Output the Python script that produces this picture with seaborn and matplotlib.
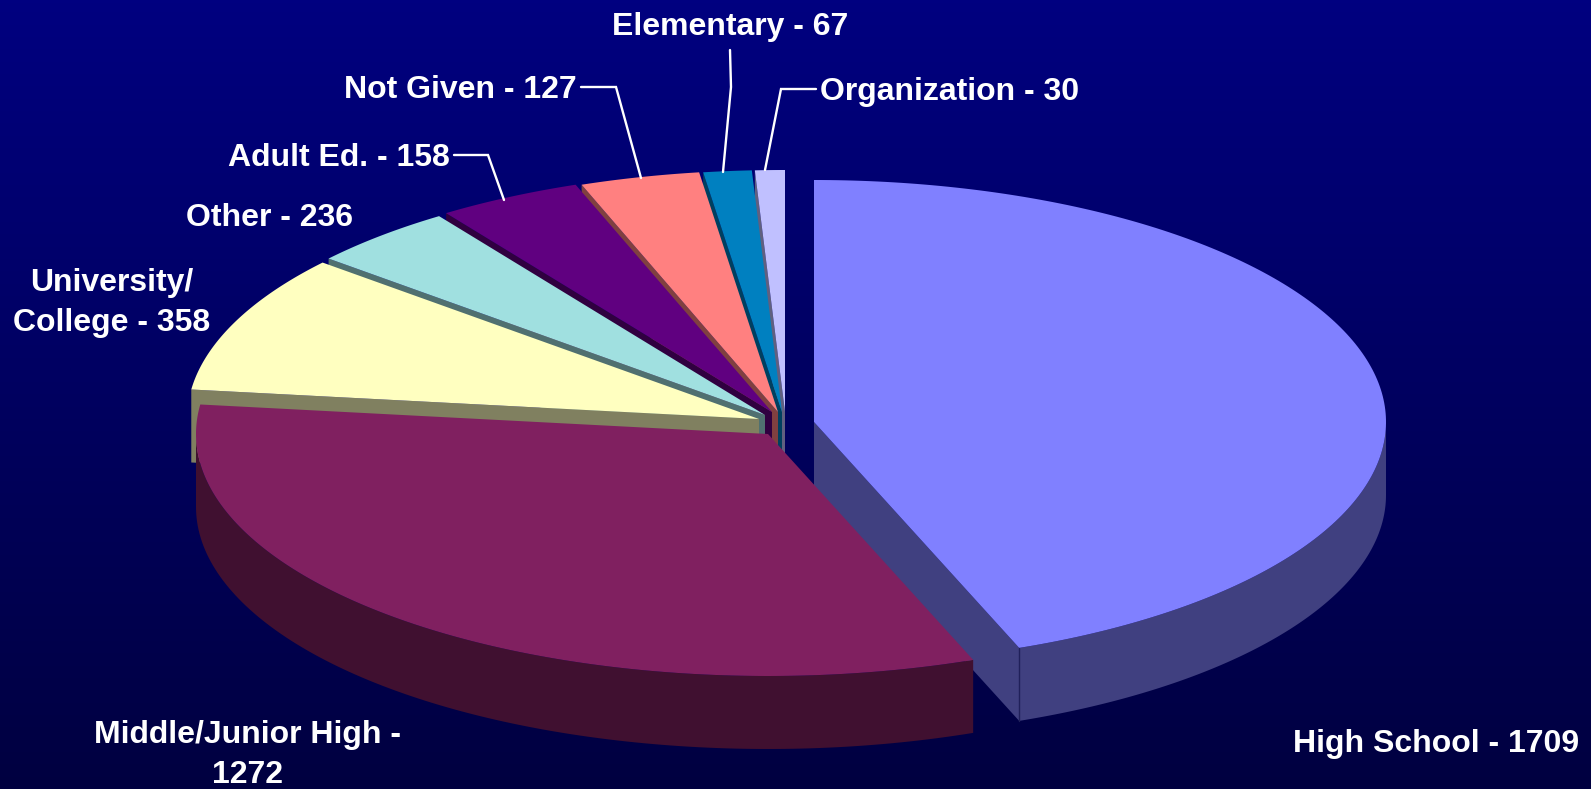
import numpy as np
import matplotlib
matplotlib.use("Agg")
import matplotlib.pyplot as plt
from matplotlib.colors import LinearSegmentedColormap
import seaborn as sns

# counts, clockwise from 12 o'clock
categories = ["High School", "Middle/Junior High", "University/College", "Other",
              "Adult Ed.", "Not Given", "Elementary", "Organization"]
counts = [1709, 1272, 358, 236, 158, 127, 67, 30]
top_colors = ["#8080FF", "#802060", "#FFFFC0", "#A0E0E0",
              "#600080", "#FF8080", "#0080C0", "#C0C0FF"]
label_texts = ["High School - 1709", "Middle/Junior High -\n1272", "University/\nCollege - 358",
               "Other - 236", "Adult Ed. - 158", "Not Given - 127", "Elementary - 67",
               "Organization - 30"]

# where each exploded slice's tip sits in the picture
tips = [(814, 422), (768, 434), (759, 419), (765, 415),
        (772, 412), (778, 412), (782, 412), (785, 412)]
label_pos = [(1436, 744), (247, 755), (112, 303), (269, 218),
             (338.5, 158), (460.5, 90), (730, 27), (950, 92)]
leaders = {
    "Adult Ed.": [(454, 155), (488, 155), (504, 200)],
    "Not Given": [(581, 87), (616, 87), (641, 178)],
    "Elementary": [(730, 50), (731, 87), (723, 172)],
    "Organization": [(816, 89), (781, 89), (765, 170)],
}

RX, RY = 572, 242
DEPTH = 73
# the 3d view pushes the slice edges round a little
warp_in = [0, 155.5, 271.2, 303.8, 325.3, 339.7, 351.2, 357.3, 360]
warp_out = [0, 159, 277, 310.3, 325.3, 340, 352.1, 357, 360]


def rim(tip, angles):
    t = np.radians(angles)
    return tip[0] + RX * np.sin(t), tip[1] - RY * np.cos(t)


def draw_slice(ax, tip, start, end, color, inner_edge=None):
    wall = tuple(np.array(color) * 0.5)

    # side wall along one cut edge
    if inner_edge is not None:
        ex, ey = rim(tip, inner_edge)
        ax.fill([tip[0], ex, ex, tip[0]], [tip[1], ey, ey + DEPTH, tip[1] + DEPTH],
                color=wall, lw=0, zorder=2)

    # outer wall, only the front half of the pie shows it
    lo, hi = max(start, 90), min(end, 270)
    if hi > lo:
        xs, ys = rim(tip, np.linspace(lo, hi, 120))
        ax.fill(np.r_[xs, xs[::-1]], np.r_[ys, ys[::-1] + DEPTH], color=wall, lw=0, zorder=2)

    xs, ys = rim(tip, np.linspace(start, end, 200))
    ax.fill(np.r_[tip[0], xs], np.r_[tip[1], ys], color=color, lw=0, zorder=2)


sns.set_theme(style="white")
plt.rcParams["font.family"] = ["Liberation Sans", "DejaVu Sans"]
palette = sns.color_palette(top_colors)

fig = plt.figure(figsize=(15.91, 7.89), dpi=100)
ax = fig.add_axes([0, 0, 1, 1])

cmap = LinearSegmentedColormap.from_list("bg", ["#000080", "#000040"])
ax.imshow(np.linspace(0, 1, 256).reshape(-1, 1), cmap=cmap, aspect="auto",
          extent=[0, 1591, 789, 0], zorder=0)

bounds = np.interp(np.r_[0, np.cumsum(counts)] / np.sum(counts) * 360, warp_in, warp_out)

# back to front: small slices first, then the two big ones
for i in [7, 6, 5, 4, 3, 2]:
    draw_slice(ax, tips[i], bounds[i], bounds[i + 1], palette[i], inner_edge=bounds[i])
draw_slice(ax, tips[0], bounds[0], bounds[1], palette[0], inner_edge=bounds[1])
draw_slice(ax, tips[1], bounds[1], bounds[2], palette[1])

# thin dark seam on the high school corner
cx, cy = rim(tips[0], bounds[1])
ax.plot([cx, cx], [cy, cy + DEPTH], color="#20205A", lw=1, zorder=3)

for points in leaders.values():
    px, py = zip(*points)
    ax.plot(px, py, color="white", lw=1.7, zorder=4, solid_joinstyle="miter")

for text, (x, y) in zip(label_texts, label_pos):
    ax.text(x, y, text, color="white", fontsize=23, fontweight="bold",
            ha="center", va="center", linespacing=1.44, zorder=5)

ax.set_xlim(0, 1591)
ax.set_ylim(789, 0)
ax.axis("off")

fig.savefig("out.png", dpi=100)
